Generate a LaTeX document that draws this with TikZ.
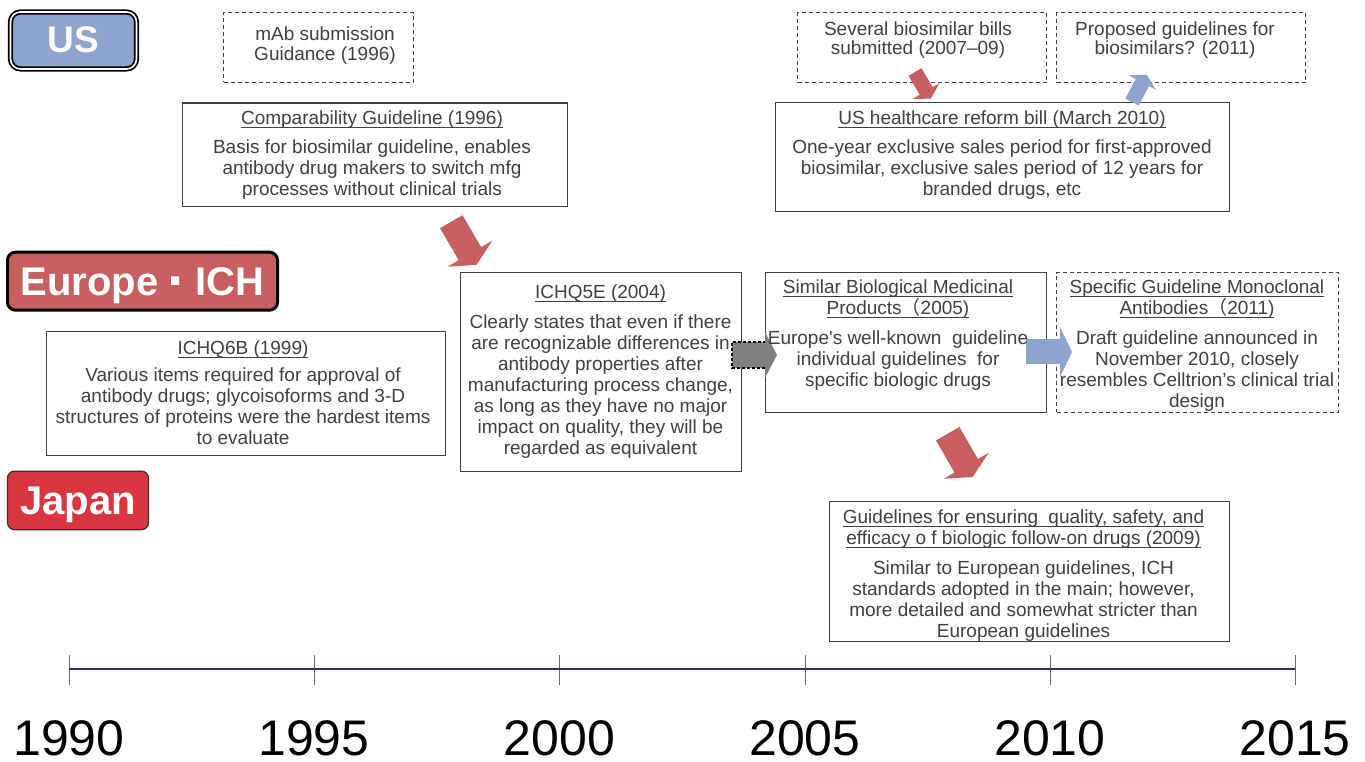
\documentclass[tikz,border=0pt]{standalone}
\usepackage{fontspec}
\setmainfont{Liberation Sans}
\newfontfamily\cjk{Noto Sans CJK JP}
\usetikzlibrary{calc}

\definecolor{txtgray}{HTML}{404040}
\definecolor{boxgray}{HTML}{404040}
\definecolor{arrred}{HTML}{C75F61}
\definecolor{arrblue}{HTML}{8EA4CC}
\definecolor{jpred}{HTML}{DA3640}
\definecolor{axisnavy}{HTML}{28306E}
\definecolor{tickgray}{HTML}{666666}
\definecolor{arrgray}{HTML}{808080}

% underlined heading line: rule sits just under the baseline
\newcommand\ttl[1]{\setbox0=\hbox{#1}\rlap{\rule[-3.2pt]{\wd0}{1pt}}\box0}

\tikzset{
  box/.style={draw=boxgray, line width=1.2pt, anchor=north west, inner sep=0pt},
  dbox/.style={box, dash pattern=on 4pt off 3pt, line width=1.1pt},
  txt/.style={text=txtgray, align=center, anchor=north, inner sep=0pt,
              font=\fontsize{19}{21}\selectfont},
  lab/.style={text=white, inner sep=0pt, text depth=0pt},
  year/.style={font=\fontsize{50}{52}\selectfont, inner sep=1pt},
  pics/blockarrow/.style n args={4}{code={%
    \path[pic actions] (0,-#2/2) -- ({#1-#4},-#2/2) -- ({#1-#4},-#3/2) -- (#1,0)
      -- ({#1-#4},#3/2) -- ({#1-#4},#2/2) -- (0,#2/2) -- cycle;}}
}

\begin{document}
\begin{tikzpicture}[x=1pt, y=-1pt]
\useasboundingbox (0,0) rectangle (1365,762);
\fill[white] (0,0) rectangle (1365,762);

% ---------- frames ----------
\node[dbox, minimum width=190pt, minimum height=69.5pt] (mab) at (223,12.3) {};
\node[box, minimum width=385pt, minimum height=103.5pt] (cmp) at (182,102.5) {};
\node[box, minimum width=399pt, minimum height=124pt] (q6b) at (46,331) {};
\node[box, minimum width=281pt, minimum height=199pt] (q5e) at (460,272) {};
\node[dbox, minimum width=249pt, minimum height=70pt] (bills) at (797,12) {};
\node[dbox, minimum width=249pt, minimum height=70pt] (prop) at (1056,12) {};
\node[box, minimum width=454pt, minimum height=109pt] (reform) at (775,101.7) {};
\node[box, minimum width=281pt, minimum height=139.7pt] (sim) at (765,272) {};
\node[dbox, minimum width=282pt, minimum height=139.7pt] (mono) at (1056,272) {};
\node[box, minimum width=400pt, minimum height=140pt] (jpg) at (829,500.7) {};

% ---------- block arrows ----------
\pic[fill=arrred, rotate=-59.8] at (451.3,221.7) {blockarrow={50}{26}{52}{13}};
\pic[fill=arrred, rotate=-60] at (947.7,433.7) {blockarrow={50}{27}{52}{13}};
\pic[fill=arrred, rotate=-59.5] at (915,72) {blockarrow={31}{15}{31}{9}};
\pic[fill=arrblue, rotate=62] at (1132,102) {blockarrow={31}{15}{31}{9}};

% grey dashed arrow between ICH Q5E and the 2005 guideline
\fill[arrgray] (732,342) rectangle (766,368);
\draw[black, dash pattern=on 3pt off 2pt, line width=1.1pt] (766,342) -- (732,342) -- (732,368) -- (766,368);
\fill[arrgray] (765,332) -- (777,355) -- (765,378) -- cycle;

% blue arrow between the 2005 and 2011 guidelines
\fill[arrblue] (1026,339) rectangle (1060,364);
\fill[arrblue] (1060,327) -- (1072,352) -- (1060,377) -- cycle;

% ---------- texts ----------
\node[txt, font=\fontsize{19}{19.5}\selectfont] (mabT) at (325,26.8)
  {mAb submission\\Guidance (1996)};
\node[txt] (cmpT) at (372,110.5)
  {\ttl{Comparability Guideline (1996)}\\[8pt]
   Basis for biosimilar guideline, enables\\
   antibody drug makers to switch mfg\\
   processes without clinical trials};
\node[txt] (q6bT) at (243,340.5)
  {\ttl{ICHQ6B (1999)}\\[6.5pt]
   Various items required for approval of\\
   antibody drugs; glycoisoforms and 3-D\\
   structures of proteins were the hardest items\\
   to evaluate};
\node[txt] (q5eT) at (600.5,284.5)
  {\ttl{ICHQ5E (2004)}\\[9pt]
   Clearly states that even if there\\
   are recognizable differences in\\
   antibody properties after\\
   manufacturing process change,\\
   as long as they have no major\\
   impact on quality, they will be\\
   regarded as equivalent};
\node[txt, font=\fontsize{19}{19}\selectfont] (billsT) at (918,21.8)
  {Several biosimilar bills\\submitted (2007–09)};
\node[txt, font=\fontsize{19}{19}\selectfont] (propT) at (1175,21.8)
  {Proposed guidelines for\\biosimilars? (2011)};
\node[txt] (reformT) at (1002,110.5)
  {\ttl{US healthcare reform bill (March 2010)}\\[8pt]
   One-year exclusive sales period for first-approved\\
   biosimilar, exclusive sales period of 12 years for\\
   branded drugs, etc};
\node[txt] (simT) at (898,279.5)
  {\ttl{Similar Biological Medicinal}\\
   \ttl{Products{\cjk （}2005)}\\[9pt]
   Europe\textquotesingle s well-known\ \ guideline\\
   individual guidelines\ \ for\\
   specific biologic drugs};
\node[txt] (monoT) at (1197,279.5)
  {\ttl{Specific Guideline Monoclonal}\\
   \ttl{Antibodies{\cjk （}2011)}\\[9pt]
   Draft guideline announced in\\
   November 2010, closely\\
   resembles Celltrion’s clinical trial\\
   design};
\node[txt] (jpgT) at (1023.5,509.5)
  {\ttl{Guidelines for ensuring\hspace{5pt} quality, safety, and}\\
   \ttl{efficacy o f biologic follow-on drugs (2009)}\\[9pt]
   Similar to European guidelines, ICH\\
   standards adopted in the main; however,\\
   more detailed and somewhat stricter than\\
   European guidelines};

% ---------- region labels ----------
\node[lab, fill=arrblue, draw=black, line width=1.8pt, double=white, double distance=1.6pt,
      rounded corners=10pt, minimum width=126pt, minimum height=57pt,
      font=\bfseries\fontsize{37}{40}\selectfont, text height=26.5pt, text depth=2pt]
  (us) at (73.5,40.5) {US};
\node[lab, fill=arrred, draw=black, line width=3pt, rounded corners=8pt,
      minimum width=270pt, minimum height=58pt,
      font=\bfseries\fontsize{40}{44}\selectfont, text height=28.6pt]
  (eu) at (142.5,281.2)
  {Europe\hspace{9pt}\raisebox{-5pt}{\fontsize{58}{58}\selectfont ·}\hspace{9pt}ICH};
\node[lab, fill=jpred, draw=black!80, line width=1.2pt, rounded corners=7pt,
      minimum width=141pt, minimum height=58.5pt,
      font=\bfseries\fontsize{40}{44}\selectfont, text height=28.6pt]
  (jp) at (78,500.4) {Japan};

% ---------- time axis ----------
\foreach \yr/\xx in {1990/69,1995/314,2000/559.5,2005/805,2010/1050,2015/1295}{
  \coordinate (t\yr) at (\xx,669);
  \draw[tickgray, line width=0.8pt] (\xx,655) -- (\xx,685);
  \node[year] (y\yr) at (\xx,738) {\yr};
}
\draw[axisnavy, line width=2pt] (t1990) -- (t2015);
\end{tikzpicture}
\end{document}
